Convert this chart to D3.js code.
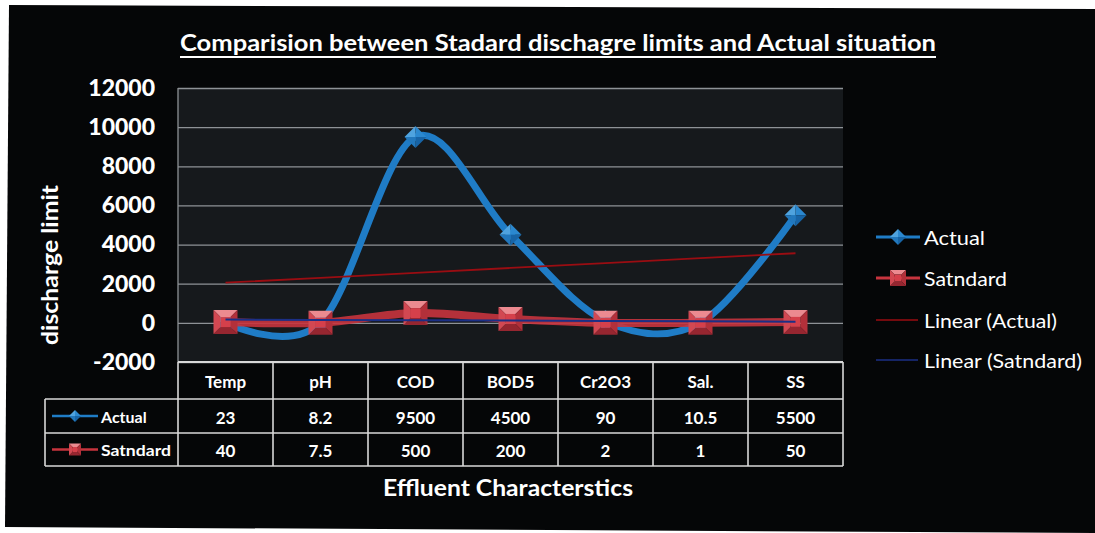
<!DOCTYPE html>
<html><head><meta charset="utf-8">
<script src="https://cdn.jsdelivr.net/npm/d3@7"></script>
<style>
html,body{margin:0;padding:0;background:#fff;}
svg{display:block;}
text{font-family:Lato,"Open Sans",sans-serif;fill:#fff;}
</style></head>
<body>
<script>
const categories = ["Temp","pH","COD","BOD5","Cr2O3","Sal.","SS"];
const actual = [23, 8.2, 9500, 4500, 90, 10.5, 5500];
const standard = [40, 7.5, 500, 200, 2, 1, 50];
const yTicks = [-2000, 0, 2000, 4000, 6000, 8000, 10000, 12000];
const seriesNames = ["Actual", "Satndard"];
const legendNames = ["Actual", "Satndard", "Linear (Actual)", "Linear (Satndard)"];
const titleText = "Comparision between Stadard dischagre limits and Actual situation";
const xTitle = "Effluent Characterstics";
const yTitle = "discharge limit";

const W = 1095, H = 533;
const svg = d3.select("body").append("svg").attr("width", W).attr("height", H);

// background (photo of a black slide on white paper)
svg.append("rect").attr("width", W).attr("height", H).attr("fill", "#fff");
svg.append("polygon").attr("points", "9,5 1095,9 1095,533 5,527").attr("fill", "#050607");

const plot = {l:178, r:843, t:88, b:362};
const x = d3.scaleBand().domain(categories).range([plot.l, plot.r]);
const xc = d => x(d) + x.bandwidth()/2;
const y = d3.scaleLinear().domain([-2000, 12000]).range([plot.b, plot.t]);

// plot background
svg.append("rect").attr("x", plot.l).attr("y", plot.t).attr("width", plot.r-plot.l).attr("height", plot.b-plot.t).attr("fill", "#16191c");

// gridlines
const grid = svg.append("g").attr("transform", `translate(${plot.l},0)`)
  .call(d3.axisLeft(y).tickValues(yTicks).tickSize(-(plot.r-plot.l)).tickFormat(""));
grid.select(".domain").remove();
grid.selectAll("line").attr("stroke", "#8e9296").attr("stroke-width", 1.3);
svg.append("line").attr("x1", plot.l).attr("x2", plot.l).attr("y1", plot.t).attr("y2", plot.b).attr("stroke", "#8e9296").attr("stroke-width", 1.3);

// y tick labels
const yAx = svg.append("g").attr("transform", `translate(${plot.l},0)`)
  .call(d3.axisLeft(y).tickValues(yTicks).tickSize(0).tickPadding(23).tickFormat(d => String(d)));
yAx.select(".domain").remove();
yAx.selectAll("text").attr("fill", "#fff").style("font-family", "Lato").style("font-weight", "900").style("font-size", "23px");

// line generators
const line = d3.line().x((d,i) => xc(categories[i])).y(d => y(d)).curve(d3.curveCardinal.tension(0));

svg.append("path").datum(actual).attr("d", line).attr("fill", "none").attr("stroke", "#1f7cc6").attr("stroke-width", 7).attr("stroke-linejoin","round");

function diamond(g, cx, cy, h) {
  const pts = [[[cx-h,cy],[cx,cy-h],[cx,cy]], [[cx,cy-h],[cx+h,cy],[cx,cy]], [[cx+h,cy],[cx,cy+h],[cx,cy]], [[cx,cy+h],[cx-h,cy],[cx,cy]]];
  const cols = ["#4fa3df", "#2b88cf", "#1764a6", "#2278bd"];
  pts.forEach((p,i) => g.append("polygon").attr("points", p.map(q=>q.join(",")).join(" ")).attr("fill", cols[i]));
}
function square(g, cx, cy, s, inner) {
  const o = [[cx-s,cy-s],[cx+s,cy-s],[cx+s,cy+s],[cx-s,cy+s]];
  const n = [[cx-inner,cy-inner],[cx+inner,cy-inner],[cx+inner,cy+inner],[cx-inner,cy+inner]];
  const facets = [[o[0],o[1],n[1],n[0]], [o[1],o[2],n[2],n[1]], [o[2],o[3],n[3],n[2]], [o[3],o[0],n[0],n[3]]];
  const cols = ["#ec8a90", "#b3303a", "#962630", "#d24852"];
  facets.forEach((p,i) => g.append("polygon").attr("points", p.map(q=>q.join(",")).join(" ")).attr("fill", cols[i]));
  g.append("rect").attr("x", cx-inner).attr("y", cy-inner).attr("width", 2*inner).attr("height", 2*inner).attr("fill", "#d5404b");
}

const gA = svg.append("g");
actual.forEach((v,i) => diamond(gA, xc(categories[i]), y(v), 11));

svg.append("path").datum(standard).attr("d", line).attr("fill", "none").attr("stroke", "#c7343e").attr("stroke-width", 8).attr("stroke-opacity", 0.9);
const gS = svg.append("g");
standard.forEach((v,i) => square(gS, xc(categories[i]), y(v), 12, 5));

// linear trendlines (least squares on category index)
function trend(vals) {
  const xs = vals.map((_,i) => i+1);
  const mx = d3.mean(xs), my = d3.mean(vals);
  const sxy = d3.sum(xs, (xi,i) => (xi-mx)*(vals[i]-my));
  const sxx = d3.sum(xs, xi => (xi-mx)*(xi-mx));
  const b = sxy/sxx, a = my - b*mx;
  return xs.map(xi => a + b*xi);
}
const lin = d3.line().x((d,i) => xc(categories[i])).y(d => y(d));
svg.append("path").datum(trend(actual)).attr("d", lin).attr("stroke", "#9a0d12").attr("stroke-width", 1.8).attr("fill", "none");
svg.append("path").datum(trend(standard)).attr("d", lin).attr("stroke", "#1b2f86").attr("stroke-width", 2).attr("fill", "none");

// data table
const tbl = svg.append("g");
const rowY = [plot.b, 399, 433, 466];
const lineCol = "#d8d8d8";
const tLeft = 45;
tbl.append("line").attr("x1", plot.l).attr("x2", plot.r).attr("y1", rowY[0]).attr("y2", rowY[0]).attr("stroke", lineCol).attr("stroke-width", 2);
[rowY[1], rowY[2], rowY[3]].forEach(yy => tbl.append("line").attr("x1", tLeft).attr("x2", plot.r).attr("y1", yy).attr("y2", yy).attr("stroke", lineCol).attr("stroke-width", 1.6));
categories.concat([null]).forEach((c) => {
  const xx = c ? x(c) : plot.r;
  tbl.append("line").attr("x1", xx).attr("x2", xx).attr("y1", rowY[0]).attr("y2", rowY[3]).attr("stroke", lineCol).attr("stroke-width", 1.6);
});
tbl.append("line").attr("x1", tLeft).attr("x2", tLeft).attr("y1", rowY[1]).attr("y2", rowY[3]).attr("stroke", lineCol).attr("stroke-width", 1.6);

const cellStyle = s => s.attr("text-anchor", "middle").attr("dominant-baseline", "central").style("font-weight", "700").style("font-size", "17px");
categories.forEach(c => tbl.append("text").attr("x", xc(c)).attr("y", (rowY[0]+rowY[1])/2 + 1).text(c).call(cellStyle));
[actual, standard].forEach((arr, r) => {
  arr.forEach((v,i) => tbl.append("text").attr("x", xc(categories[i])).attr("y", (rowY[r+1]+rowY[r+2])/2 + 1).text(String(v)).call(cellStyle));
});
// row header keys
const r1 = (rowY[1]+rowY[2])/2, r2 = (rowY[2]+rowY[3])/2;
tbl.append("line").attr("x1", 52).attr("x2", 98).attr("y1", r1).attr("y2", r1).attr("stroke", "#1f7cc6").attr("stroke-width", 2.5);
diamond(tbl, 75, r1, 6);
tbl.append("text").attr("x", 101).attr("y", r1).text(seriesNames[0]).attr("dominant-baseline", "central").style("font-weight","700").style("font-size","16px");
tbl.append("line").attr("x1", 52).attr("x2", 98).attr("y1", r2).attr("y2", r2).attr("stroke", "#c7343e").attr("stroke-width", 2.5);
square(tbl, 75, r2, 6, 2.5);
tbl.append("text").attr("x", 101).attr("y", r2).text(seriesNames[1]).attr("dominant-baseline", "central").style("font-weight","700").style("font-size","16px")
  .attr("textLength", 70).attr("lengthAdjust", "spacingAndGlyphs");

// legend
const lg = svg.append("g");
const lgY = [237, 278, 320, 360];
const lgLen = [61, 83, 133, 158];
lg.append("line").attr("x1", 876).attr("x2", 920).attr("y1", lgY[0]).attr("y2", lgY[0]).attr("stroke", "#1f7cc6").attr("stroke-width", 3);
diamond(lg, 898, lgY[0], 8);
lg.append("line").attr("x1", 876).attr("x2", 920).attr("y1", lgY[1]).attr("y2", lgY[1]).attr("stroke", "#c7343e").attr("stroke-width", 3);
square(lg, 898, lgY[1], 8, 3.5);
lg.append("line").attr("x1", 876).attr("x2", 918).attr("y1", lgY[2]).attr("y2", lgY[2]).attr("stroke", "#9a0d12").attr("stroke-width", 1.5);
lg.append("line").attr("x1", 876).attr("x2", 918).attr("y1", lgY[3]).attr("y2", lgY[3]).attr("stroke", "#1b2f86").attr("stroke-width", 1.5);
legendNames.forEach((n,i) => lg.append("text").attr("x", 924).attr("y", lgY[i]).attr("dominant-baseline", "central").style("font-size", "20px")
  .attr("textLength", lgLen[i]).attr("lengthAdjust", "spacingAndGlyphs").text(n));

// titles
svg.append("text").attr("x", 558).attr("y", 51).attr("text-anchor", "middle").style("font-weight", "700").style("font-size", "22px")
  .attr("textLength", 756).attr("lengthAdjust", "spacingAndGlyphs").text(titleText);
svg.append("line").attr("x1", 180).attr("x2", 936).attr("y1", 57).attr("y2", 57).attr("stroke", "#fff").attr("stroke-width", 2);
svg.append("text").attr("x", 508).attr("y", 496).attr("text-anchor", "middle").style("font-weight", "700").style("font-size", "22px")
  .attr("textLength", 250).attr("lengthAdjust", "spacingAndGlyphs").text(xTitle);
svg.append("text").attr("transform", "translate(58,265) rotate(-90)").attr("text-anchor", "middle").style("font-weight", "700").style("font-size", "22px")
  .attr("textLength", 160).attr("lengthAdjust", "spacingAndGlyphs").text(yTitle);
</script>
</body></html>
